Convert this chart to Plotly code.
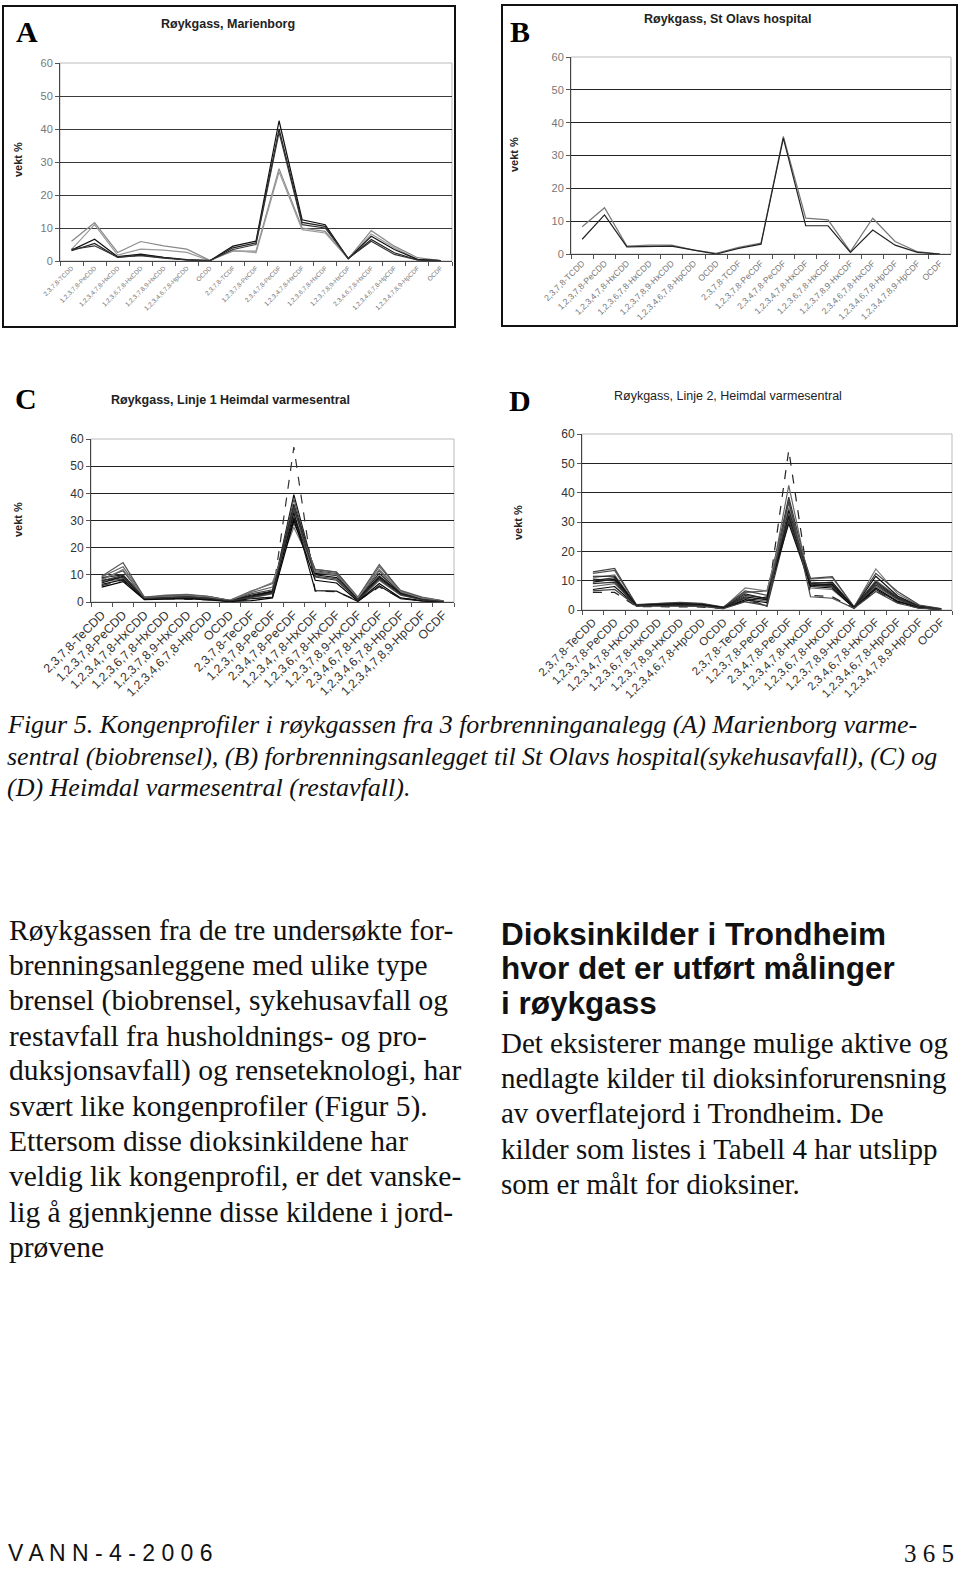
import plotly.graph_objects as go

W, H = 960, 1584

# ---------------- data ----------------
congeners_ab = ["2,3,7,8-TCDD", "1,2,3,7,8-PeCDD", "1,2,3,4,7,8-HxCDD", "1,2,3,6,7,8-HxCDD",
                "1,2,3,7,8,9-HxCDD", "1,2,3,4,6,7,8-HpCDD", "OCDD", "2,3,7,8-TCDF",
                "1,2,3,7,8-PeCDF", "2,3,4,7,8-PeCDF", "1,2,3,4,7,8-HxCDF", "1,2,3,6,7,8-HxCDF",
                "1,2,3,7,8,9-HxCDF", "2,3,4,6,7,8-HxCDF", "1,2,3,4,6,7,8-HpCDF",
                "1,2,3,4,7,8,9-HpCDF", "OCDF"]
congeners_cd = ["2,3,7,8-TeCDD", "1,2,3,7,8-PeCDD", "1,2,3,4,7,8-HxCDD", "1,2,3,6,7,8-HxCDD",
                "1,2,3,7,8,9-HxCDD", "1,2,3,4,6,7,8-HpCDD", "OCDD", "2,3,7,8-TeCDF",
                "1,2,3,7,8-PeCDF", "2,3,4,7,8-PeCDF", "1,2,3,4,7,8-HxCDF", "1,2,3,6,7,8-HxCDF",
                "1,2,3,7,8,9-HxCDF", "2,3,4,6,7,8-HxCDF", "1,2,3,4,6,7,8-HpCDF",
                "1,2,3,4,7,8,9-HpCDF", "OCDF"]

# A: Marienborg
marienborg_1 = [6.0, 11.6, 2.6, 5.9, 4.6, 3.6, 0.2, 3.0, 3.0, 28.0, 10.0, 9.0, 0.7, 9.2, 4.5, 1.0, 0.1]
marienborg_2 = [3.5, 11.0, 1.8, 3.6, 3.3, 2.6, 0.1, 3.2, 2.5, 27.0, 9.5, 8.5, 0.7, 8.2, 4.0, 0.5, 0.1]
marienborg_3 = [3.3, 6.6, 1.3, 2.1, 1.1, 0.4, 0.1, 4.5, 6.0, 42.5, 12.5, 11.0, 0.7, 7.5, 3.5, 0.5, 0.1]
marienborg_4 = [3.1, 5.3, 1.1, 1.8, 1.0, 0.3, 0.1, 4.0, 5.5, 40.0, 11.7, 10.5, 0.7, 6.5, 2.5, 0.3, 0.1]
marienborg_5 = [3.5, 4.6, 1.2, 1.6, 0.9, 0.3, 0.1, 3.5, 5.0, 39.0, 11.0, 10.0, 0.8, 6.0, 2.0, 0.3, 0.1]

# B: St Olavs hospital
olavs_1 = [8.3, 14.1, 2.4, 2.7, 2.7, 1.2, 0.2, 2.0, 3.3, 35.8, 10.9, 10.4, 0.7, 10.9, 3.8, 0.7, 0.0]
olavs_2 = [4.5, 11.9, 2.2, 2.4, 2.4, 1.2, 0.0, 1.7, 3.0, 35.3, 8.6, 8.6, 0.5, 7.3, 2.7, 0.5, 0.0]

# C: Linje 1 Heimdal
linje1_01 = [6.0, 8.0, 1.0, 1.2, 1.0, 0.8, 0.2, 1.0, 2.0, 57.0, 4.0, 3.8, 0.5, 5.5, 1.5, 0.5, 0.1]
linje1_02 = [8.0, 9.0, 1.3, 1.8, 1.8, 1.5, 0.4, 2.0, 3.5, 39.5, 10.0, 9.0, 0.8, 9.0, 3.0, 1.0, 0.2]
linje1_03 = [7.5, 8.5, 1.2, 1.5, 1.5, 1.2, 0.3, 1.5, 3.0, 38.0, 9.5, 8.5, 0.5, 8.0, 2.5, 0.8, 0.1]
linje1_04 = [9.0, 10.0, 1.5, 2.0, 2.2, 1.8, 0.5, 2.5, 4.0, 36.0, 11.0, 10.0, 1.0, 10.5, 3.5, 1.2, 0.2]
linje1_05 = [8.5, 11.5, 1.6, 2.2, 2.5, 2.0, 0.5, 3.0, 4.5, 34.0, 11.5, 10.5, 1.2, 11.5, 4.0, 1.5, 0.3]
linje1_06 = [9.2, 13.0, 1.8, 2.5, 2.8, 2.1, 0.6, 3.5, 5.5, 32.0, 12.0, 11.0, 1.5, 13.0, 4.3, 1.8, 0.4]
linje1_07 = [7.0, 9.5, 1.4, 1.8, 2.0, 1.6, 0.4, 2.2, 3.8, 31.0, 10.5, 9.8, 0.9, 9.5, 3.2, 1.0, 0.2]
linje1_08 = [9.5, 14.5, 1.7, 2.3, 2.6, 2.0, 0.6, 4.0, 6.8, 29.0, 12.0, 11.0, 1.8, 13.8, 4.0, 1.6, 0.3]
linje1_09 = [8.0, 12.0, 1.5, 2.0, 2.3, 1.8, 0.5, 3.8, 7.2, 27.5, 11.0, 10.0, 1.5, 12.0, 3.8, 1.4, 0.3]
linje1_10 = [5.5, 7.5, 0.9, 1.0, 1.2, 0.8, 0.2, 0.5, 1.5, 30.0, 8.0, 7.0, 0.3, 6.8, 1.5, 0.4, 0.1]
linje1_11 = [6.5, 8.2, 1.1, 1.3, 1.4, 1.0, 0.3, 1.2, 1.8, 33.0, 4.2, 4.0, 0.2, 6.0, 1.2, 0.4, 0.1]
linje1_12 = [7.8, 9.8, 1.3, 1.7, 1.9, 1.4, 0.4, 1.8, 3.2, 35.0, 9.2, 8.0, 0.7, 8.5, 2.8, 0.9, 0.2]

# D: Linje 2 Heimdal
linje2_01 = [6.0, 6.0, 1.2, 1.2, 1.0, 1.0, 0.5, 3.0, 2.0, 54.5, 5.0, 4.5, 0.6, 6.5, 2.5, 0.6, 0.2]
linje2_02 = [8.0, 9.0, 1.5, 1.8, 1.8, 1.6, 0.6, 4.0, 3.0, 42.5, 7.5, 7.0, 0.8, 8.0, 3.5, 0.9, 0.3]
linje2_03 = [10.0, 11.0, 1.6, 2.0, 2.1, 1.9, 0.8, 5.0, 4.0, 38.5, 8.5, 8.0, 0.9, 9.0, 4.0, 1.0, 0.3]
linje2_04 = [12.5, 13.5, 1.7, 2.2, 2.4, 2.1, 0.9, 6.0, 6.5, 36.5, 9.5, 9.0, 1.0, 10.0, 4.5, 1.2, 0.4]
linje2_05 = [11.0, 12.0, 1.6, 2.1, 2.3, 2.0, 0.8, 7.5, 6.5, 35.0, 10.5, 11.0, 1.0, 14.0, 5.5, 1.5, 0.4]
linje2_06 = [9.5, 10.5, 1.5, 1.9, 2.0, 1.8, 0.7, 4.5, 3.5, 34.0, 9.0, 8.5, 0.8, 11.5, 4.8, 1.3, 0.3]
linje2_07 = [13.0, 14.2, 1.8, 2.3, 2.6, 2.3, 1.0, 6.5, 5.0, 33.0, 10.8, 11.4, 1.1, 12.5, 6.3, 1.7, 0.5]
linje2_08 = [7.0, 8.0, 1.4, 1.6, 1.5, 1.4, 0.6, 3.5, 2.5, 32.0, 8.0, 7.5, 0.7, 7.5, 3.0, 0.8, 0.2]
linje2_09 = [10.5, 10.0, 1.5, 1.9, 1.9, 1.7, 0.7, 5.5, 3.8, 31.5, 9.0, 9.5, 0.9, 9.5, 4.2, 1.1, 0.3]
linje2_10 = [9.0, 9.5, 1.4, 1.7, 1.7, 1.5, 0.6, 4.2, 1.2, 30.5, 8.8, 8.2, 0.8, 8.5, 3.8, 1.0, 0.3]
linje2_11 = [11.5, 11.5, 1.6, 2.0, 2.2, 1.9, 0.8, 3.0, 4.5, 29.5, 8.2, 8.8, 0.9, 7.0, 2.8, 0.7, 0.2]
linje2_12 = [6.5, 7.0, 1.3, 1.4, 1.3, 1.2, 0.5, 2.8, 1.5, 37.5, 4.5, 4.0, 0.6, 6.3, 2.3, 0.6, 0.2]

panel_titles = ["Røykgass, Marienborg", "Røykgass, St Olavs hospital",
                "Røykgass, Linje 1 Heimdal varmesentral", "Røykgass, Linje 2, Heimdal varmesentral"]
panel_letters = ["A", "B", "C", "D"]
y_ticks = [0, 10, 20, 30, 40, 50, 60]

# ---------------- helpers ----------------
def px(x):
    return x / W

def py(y):
    return 1 - y / H

panels = [
    dict(series=[marienborg_1, marienborg_2, marienborg_3, marienborg_4, marienborg_5],
         colors=["#8a8a8a", "#9a9a9a", "#111111", "#222222", "#333333"],
         dashes=["solid"] * 5,
         cats=congeners_ab, box=(60, 63, 452, 261), tickfont=6.4, ytickfont=11,
         tickcolor="#777777", title_xy=(228, 24), title_bold=True,
         letter_xy=(27, 31), ylab_xy=(18, 160), gridcolor="#3a3a3a"),
    dict(series=[olavs_1, olavs_2],
         colors=["#777777", "#222222"], dashes=["solid", "solid"],
         cats=congeners_ab, box=(571, 57, 951, 254), tickfont=8.6, ytickfont=11,
         tickcolor="#777777", title_xy=(727, 19), title_bold=True,
         letter_xy=(520, 31), ylab_xy=(514, 155), gridcolor="#222222"),
    dict(series=[linje1_01, linje1_02, linje1_03, linje1_04, linje1_05, linje1_06,
                 linje1_07, linje1_08, linje1_09, linje1_10, linje1_11, linje1_12],
         colors=["#333333", "#111111", "#555555", "#222222", "#444444", "#666666",
                 "#111111", "#555555", "#777777", "#000000", "#111111", "#333333"],
         dashes=["dash"] + ["solid"] * 11,
         cats=congeners_cd, box=(91, 439, 454, 602), tickfont=12.3, ytickfont=12,
         tickcolor="#333333", title_xy=(230, 400), title_bold=True,
         letter_xy=(26, 398), ylab_xy=(18, 520), gridcolor="#222222"),
    dict(series=[linje2_01, linje2_02, linje2_03, linje2_04, linje2_05, linje2_06,
                 linje2_07, linje2_08, linje2_09, linje2_10, linje2_11, linje2_12],
         colors=["#222222", "#666666", "#333333", "#555555", "#777777", "#111111",
                 "#444444", "#000000", "#222222", "#333333", "#111111", "#444444"],
         dashes=["dash"] + ["solid"] * 11,
         cats=congeners_cd, box=(582, 434, 952, 610), tickfont=11.5, ytickfont=12,
         tickcolor="#333333", title_xy=(728, 396), title_bold=False,
         letter_xy=(520, 400), ylab_xy=(518, 523), gridcolor="#222222"),
]

fig = go.Figure()
layout = dict(width=W, height=H, autosize=False, margin=dict(l=0, r=0, t=0, b=0, pad=0, autoexpand=False),
              paper_bgcolor="white", plot_bgcolor="white", showlegend=False,
              font=dict(family="Liberation Sans, Arial", color="#222"))
annotations = []
shapes = []

for k, p in enumerate(panels):
    sfx = "" if k == 0 else str(k + 1)
    x0, y0, x1, y1 = p["box"]
    for s, c, d in zip(p["series"], p["colors"], p["dashes"]):
        fig.add_trace(go.Scatter(x=p["cats"], y=s, mode="lines",
                                 line=dict(color=c, width=1.2, dash=d),
                                 xaxis="x" + sfx, yaxis="y" + sfx, hoverinfo="skip"))
    layout["xaxis" + sfx] = dict(domain=[px(x0), px(x1)], anchor="y" + sfx, automargin=False,
                                 type="category", tickson="boundaries", ticks="outside",
                                 ticklen=4, tickcolor="#555", tickangle=-45,
                                 tickfont=dict(size=p["tickfont"], color=p["tickcolor"],
                                               family="Liberation Sans, Arial"),
                                 showline=True, linecolor="#444", linewidth=1,
                                 showgrid=False, zeroline=False,
                                 range=[-0.5, len(p["cats"]) - 0.5])
    layout["yaxis" + sfx] = dict(domain=[py(y1), py(y0)], anchor="x" + sfx, automargin=False,
                                 range=[0, 60], tickvals=y_ticks, ticks="outside",
                                 ticklen=4, tickcolor="#555",
                                 tickfont=dict(size=p["ytickfont"], color=p["tickcolor"],
                                               family="Liberation Sans, Arial"),
                                 showline=True, linecolor="#444", linewidth=1,
                                 showgrid=True, gridcolor=p["gridcolor"], gridwidth=1,
                                 zeroline=False)
    shapes.append(dict(type="rect", xref="x" + sfx + " domain", yref="y" + sfx + " domain",
                       x0=0, x1=1, y0=0, y1=1, line=dict(color="#bbbbbb", width=1),
                       layer="below"))
    tx, ty = p["title_xy"]
    ttxt = ("<b>%s</b>" % panel_titles[k]) if p["title_bold"] else panel_titles[k]
    annotations.append(dict(text=ttxt, x=px(tx), y=py(ty), xref="paper", yref="paper",
                            showarrow=False, xanchor="center", yanchor="middle",
                            font=dict(size=12.5, color="#222", family="Liberation Sans, Arial")))
    lx, ly = p["letter_xy"]
    annotations.append(dict(text="<b>%s</b>" % panel_letters[k], x=px(lx), y=py(ly),
                            xref="paper", yref="paper", showarrow=False,
                            xanchor="center", yanchor="middle",
                            font=dict(size=30, color="black", family="Liberation Serif, Times New Roman")))
    vx, vy = p["ylab_xy"]
    annotations.append(dict(text="<b>vekt %</b>", x=px(vx), y=py(vy), xref="paper", yref="paper",
                            showarrow=False, textangle=-90, xanchor="center", yanchor="middle",
                            font=dict(size=11, color="#222", family="Liberation Sans, Arial")))

shapes.append(dict(type="rect", xref="paper", yref="paper", x0=px(3), x1=px(455),
                   y0=py(327), y1=py(6), line=dict(color="#111", width=2)))
shapes.append(dict(type="rect", xref="paper", yref="paper", x0=px(502), x1=px(957),
                   y0=py(326), y1=py(5), line=dict(color="#111", width=2)))

# ---------------- page text ----------------
serif = "Liberation Serif, Times New Roman, serif"
caption_lines = [
    "Figur 5. Kongenprofiler i røykgassen fra 3 forbrenninganalegg (A) Marienborg varme-",
    "sentral (biobrensel), (B) forbrenningsanlegget til St Olavs hospital(sykehusavfall), (C) og",
    "(D) Heimdal varmesentral (restavfall).",
]
for i, t in enumerate(caption_lines):
    annotations.append(dict(text="<i>%s</i>" % t, x=px(5), y=py(724 + 32 * i), xref="paper",
                            yref="paper", showarrow=False, xanchor="left", yanchor="middle",
                            font=dict(size=26, color="#111", family=serif)))

left_lines = [
    "Røykgassen fra de tre undersøkte for-",
    "brenningsanleggene med ulike type",
    "brensel (biobrensel, sykehusavfall og",
    "restavfall fra husholdnings- og pro-",
    "duksjonsavfall) og renseteknologi, har",
    "svært like kongenprofiler (Figur 5).",
    "Ettersom disse dioksinkildene har",
    "veldig lik kongenprofil, er det vanske-",
    "lig å gjennkjenne disse kildene i jord-",
    "prøvene",
]
for i, t in enumerate(left_lines):
    annotations.append(dict(text=t, x=px(7), y=py(930 + 35.2 * i), xref="paper", yref="paper",
                            showarrow=False, xanchor="left", yanchor="middle",
                            font=dict(size=29.5, color="#111", family=serif)))

head_lines = ["Dioksinkilder i Trondheim", "hvor det er utført målinger", "i røykgass"]
for i, t in enumerate(head_lines):
    annotations.append(dict(text="<b>%s</b>" % t, x=px(499), y=py(934 + 34.5 * i), xref="paper",
                            yref="paper", showarrow=False, xanchor="left", yanchor="middle",
                            font=dict(size=31.5, color="#111", family="Liberation Sans, Arial")))

right_lines = [
    "Det eksisterer mange mulige aktive og",
    "nedlagte kilder til dioksinforurensning",
    "av overflatejord i Trondheim. De",
    "kilder som listes i Tabell 4 har utslipp",
    "som er målt for dioksiner.",
]
for i, t in enumerate(right_lines):
    annotations.append(dict(text=t, x=px(499), y=py(1043 + 35.2 * i), xref="paper", yref="paper",
                            showarrow=False, xanchor="left", yanchor="middle",
                            font=dict(size=29, color="#111", family=serif)))

annotations.append(dict(text="V A N N - 4 - 2 0 0 6", x=px(6), y=py(1553), xref="paper", yref="paper",
                        showarrow=False, xanchor="left", yanchor="middle",
                        font=dict(size=23, color="#111", family="Liberation Sans Narrow, Liberation Sans, Arial")))
annotations.append(dict(text="3 6 5", x=px(956), y=py(1553), xref="paper", yref="paper",
                        showarrow=False, xanchor="right", yanchor="middle",
                        font=dict(size=25, color="#111", family=serif)))

layout["annotations"] = annotations
layout["shapes"] = shapes
fig.update_layout(**layout)
fig.write_html("out.html")
